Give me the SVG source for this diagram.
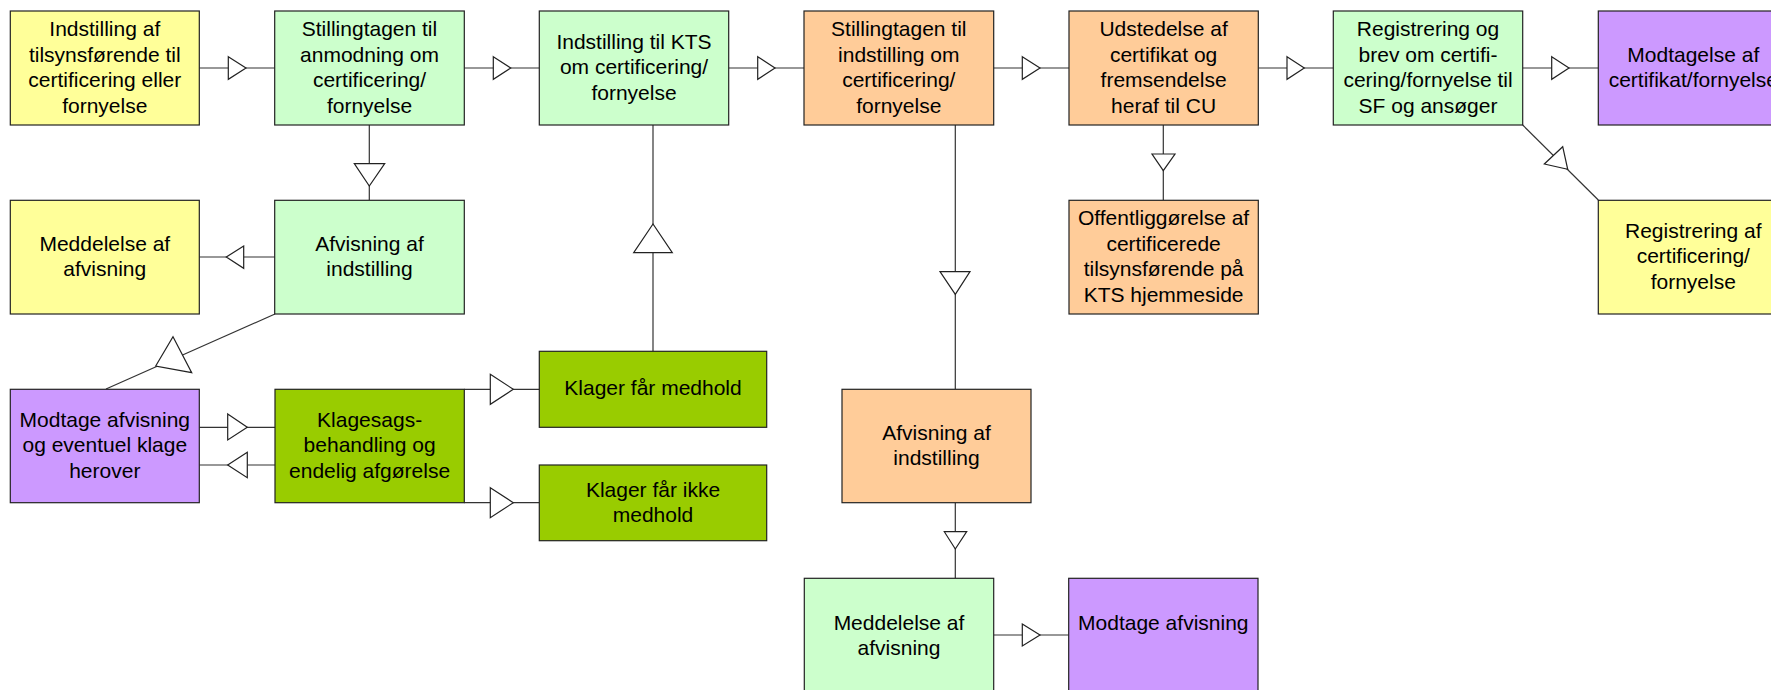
<svg xmlns="http://www.w3.org/2000/svg" width="1771" height="690" viewBox="0 0 1771 690">
<style>
.box{stroke:#222;stroke-width:1.2}
.y{fill:#FFFF99}.g{fill:#CCFFCC}.o{fill:#FFCC99}.p{fill:#CC99FF}.k{fill:#99CC00}
text{font-family:"Liberation Sans",Arial,sans-serif;font-size:21px;fill:#000;text-anchor:middle}
.c line{stroke:#333;stroke-width:1.2}
.c polygon{fill:#fff;stroke:#222;stroke-width:1.2}
</style>
<rect width="1771" height="690" fill="#fff"/>
<g class="c" id="connectors">
<line x1="199.3" y1="68" x2="274.7" y2="68"/><polygon points="228.3,56.7 246,68 228.3,79.3"/>
<line x1="464.3" y1="68" x2="539.3" y2="68"/><polygon points="493.3,56.7 510.7,68 493.3,79.3"/>
<line x1="728.7" y1="68" x2="804" y2="68"/><polygon points="757.7,56.7 775,68 757.7,79.3"/>
<line x1="993.7" y1="68" x2="1069" y2="68"/><polygon points="1022.3,56.7 1040,68 1022.3,79.3"/>
<line x1="1258.3" y1="68" x2="1333.3" y2="68"/><polygon points="1287,56.7 1304.3,68 1287,79.3"/>
<line x1="1522.7" y1="68" x2="1598.3" y2="68"/><polygon points="1551.7,56.7 1569,68 1551.7,79.3"/>
<line x1="369.3" y1="125" x2="369.3" y2="200"/><polygon points="354.3,163.7 384.7,163.7 369.3,186"/>
<line x1="275" y1="257" x2="199.3" y2="257"/><polygon points="243.7,246 226.3,257 243.7,268.3"/>
<line x1="275" y1="314" x2="106" y2="389"/><polygon points="173,336.7 191.7,372.7 155.7,366"/>
<line x1="199.3" y1="427.3" x2="275" y2="427.3"/><polygon points="227.7,414 247.3,427.3 227.7,440"/>
<line x1="275" y1="465" x2="199.3" y2="465"/><polygon points="247.3,452.3 227.7,465 247.3,477.7"/>
<line x1="464.3" y1="389.3" x2="539.3" y2="389.3"/><polygon points="490.3,374.3 513.3,389.3 490.3,404.3"/>
<line x1="464.3" y1="502.7" x2="539.3" y2="502.7"/><polygon points="490.3,487.7 513.3,502.7 490.3,517.7"/>
<line x1="653" y1="351.3" x2="653" y2="125"/><polygon points="633.7,252.7 672.3,252.7 653,224"/>
<line x1="955.3" y1="125" x2="955.3" y2="389"/><polygon points="940,271.7 970,271.7 955.3,294.3"/>
<line x1="955.3" y1="503" x2="955.3" y2="578"/><polygon points="944.3,531.7 966.7,531.7 955.3,549"/>
<line x1="993.7" y1="635" x2="1069" y2="635"/><polygon points="1022.3,624 1040,635 1022.3,646"/>
<line x1="1163.3" y1="125" x2="1163.3" y2="200"/><polygon points="1152,154 1175,154 1163.3,170.7"/>
<line x1="1522.7" y1="125" x2="1598.3" y2="200"/><polygon points="1562.7,146.7 1567.7,169.3 1544.3,164"/>
</g>
<g id="n1"><rect class="box y" x="10.3" y="11" width="189" height="114"/><text x="104.8" y="36">Indstilling af</text><text x="104.8" y="61.6">tilsynsførende til</text><text x="104.8" y="87.2">certificering eller</text><text x="104.8" y="112.8">fornyelse</text></g>
<g id="n2"><rect class="box g" x="274.7" y="11" width="189.6" height="114"/><text x="369.5" y="36">Stillingtagen til</text><text x="369.5" y="61.6">anmodning om</text><text x="369.5" y="87.2">certificering/</text><text x="369.5" y="112.8">fornyelse</text></g>
<g id="n3"><rect class="box g" x="539.3" y="11" width="189.4" height="114"/><text x="634" y="48.8">Indstilling til KTS</text><text x="634" y="74.4">om certificering/</text><text x="634" y="100">fornyelse</text></g>
<g id="n4"><rect class="box o" x="804" y="11" width="189.7" height="114"/><text x="898.8" y="36">Stillingtagen til</text><text x="898.8" y="61.6">indstilling om</text><text x="898.8" y="87.2">certificering/</text><text x="898.8" y="112.8">fornyelse</text></g>
<g id="n5"><rect class="box o" x="1069" y="11" width="189.3" height="114"/><text x="1163.6" y="36">Udstedelse af</text><text x="1163.6" y="61.6">certifikat og</text><text x="1163.6" y="87.2">fremsendelse</text><text x="1163.6" y="112.8">heraf til CU</text></g>
<g id="n6"><rect class="box g" x="1333.3" y="11" width="189.4" height="114"/><text x="1428" y="36">Registrering og</text><text x="1428" y="61.6">brev om certifi-</text><text x="1428" y="87.2">cering/fornyelse til</text><text x="1428" y="112.8">SF og ansøger</text></g>
<g id="n7"><rect class="box p" x="1598.3" y="11" width="190" height="114"/><text x="1693.3" y="61.6">Modtagelse af</text><text x="1693.3" y="87.2">certifikat/fornyelse</text></g>
<g id="n8"><rect class="box y" x="10.3" y="200.3" width="189" height="113.7"/><text x="104.8" y="250.6">Meddelelse af</text><text x="104.8" y="276.2">afvisning</text></g>
<g id="n9"><rect class="box g" x="274.7" y="200.3" width="189.6" height="113.7"/><text x="369.5" y="250.6">Afvisning af</text><text x="369.5" y="276.2">indstilling</text></g>
<g id="n10"><rect class="box o" x="1069" y="200.3" width="189.3" height="113.7"/><text x="1163.6" y="225">Offentliggørelse af</text><text x="1163.6" y="250.6">certificerede</text><text x="1163.6" y="276.2">tilsynsførende på</text><text x="1163.6" y="301.8">KTS hjemmeside</text></g>
<g id="n11"><rect class="box y" x="1598.3" y="200.3" width="190" height="113.7"/><text x="1693.3" y="237.8">Registrering af</text><text x="1693.3" y="263.4">certificering/</text><text x="1693.3" y="289">fornyelse</text></g>
<g id="n12"><rect class="box p" x="10.3" y="389.3" width="189" height="113.4"/><text x="104.8" y="426.8">Modtage afvisning</text><text x="104.8" y="452.4">og eventuel klage</text><text x="104.8" y="478">herover</text></g>
<g id="n13"><rect class="box k" x="275" y="389.3" width="189.3" height="113.4"/><text x="369.6" y="426.8">Klagesags-</text><text x="369.6" y="452.4">behandling og</text><text x="369.6" y="478">endelig afgørelse</text></g>
<g id="n14"><rect class="box k" x="539.3" y="351.3" width="227.4" height="76"/><text x="653" y="395.4">Klager får medhold</text></g>
<g id="n15"><rect class="box k" x="539.3" y="465" width="227.4" height="75.7"/><text x="653" y="496.6">Klager får ikke</text><text x="653" y="522.2">medhold</text></g>
<g id="n16"><rect class="box o" x="842" y="389.3" width="189" height="113.4"/><text x="936.5" y="439.6">Afvisning af</text><text x="936.5" y="465.2">indstilling</text></g>
<g id="n17"><rect class="box g" x="804.3" y="578.3" width="189.4" height="114"/><text x="899" y="629.6">Meddelelse af</text><text x="899" y="655.2">afvisning</text></g>
<g id="n18"><rect class="box p" x="1068.7" y="578.3" width="189.3" height="114"/><text x="1163.3" y="630">Modtage afvisning</text></g>
</svg>
